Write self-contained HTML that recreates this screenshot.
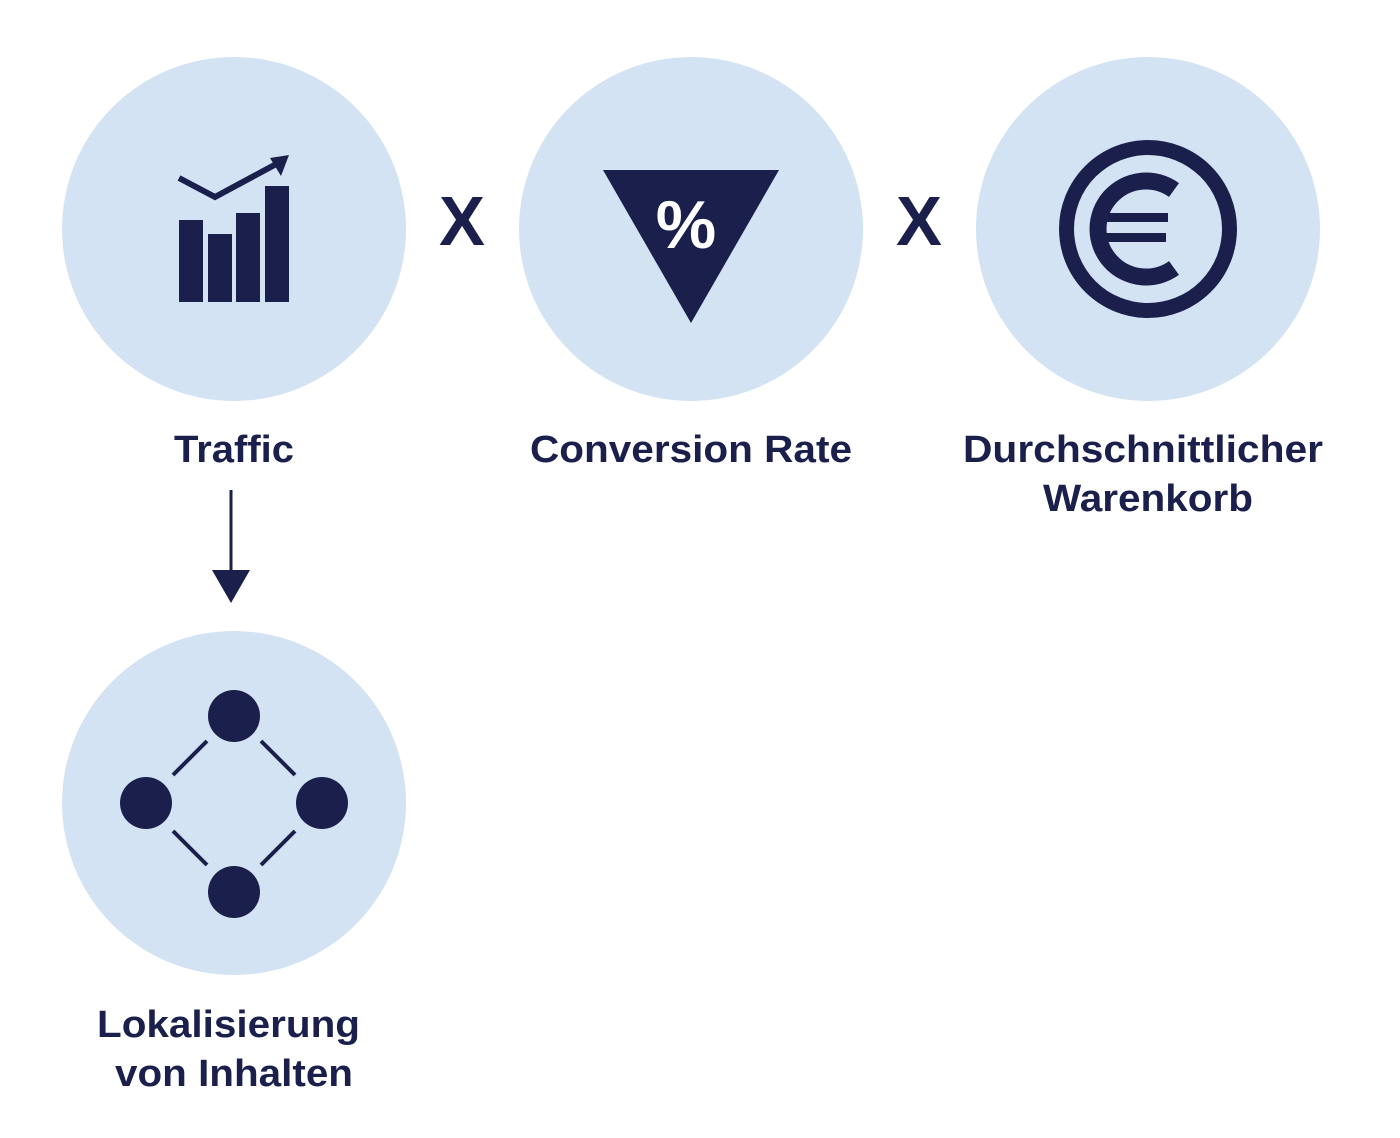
<!DOCTYPE html>
<html><head><meta charset="utf-8"><style>
html,body{margin:0;padding:0;background:#fff;}
svg{display:block}
text{font-family:"Liberation Sans",Arial,sans-serif;font-weight:bold;fill:#1b1f4b}
</style></head><body>
<svg width="1400" height="1138" viewBox="0 0 1400 1138" xmlns="http://www.w3.org/2000/svg">
<g fill="#d3e3f4">
<circle cx="234" cy="229" r="172"/>
<circle cx="691" cy="229" r="172"/>
<circle cx="1148" cy="229" r="172"/>
<circle cx="234" cy="803" r="172"/>
</g>
<g fill="#1b1f4b">
<rect x="179" y="220" width="24" height="82"/>
<rect x="208" y="234" width="24" height="68"/>
<rect x="236" y="213" width="24" height="89"/>
<rect x="265" y="186" width="24" height="116"/>
<polygon points="289,155 270,158 281,176"/>
</g>
<polyline points="179,178 215,197 280,162" fill="none" stroke="#1b1f4b" stroke-width="6"/>
<polygon points="603,170 779,170 691,323" fill="#1b1f4b"/>
<text x="686" y="248" font-size="68" text-anchor="middle" style="fill:#fff">%</text>
<circle cx="1148" cy="229" r="81.5" fill="none" stroke="#1b1f4b" stroke-width="15"/>
<path d="M1174 190 A48 48 0 1 0 1174 268" fill="none" stroke="#1b1f4b" stroke-width="17"/>
<rect x="1096" y="213" width="72" height="9" fill="#1b1f4b"/>
<rect x="1096" y="233" width="70" height="9" fill="#1b1f4b"/>
<text x="462" y="245" font-size="70" text-anchor="middle" textLength="46" lengthAdjust="spacingAndGlyphs">X</text>
<text x="919" y="245" font-size="70" text-anchor="middle" textLength="46" lengthAdjust="spacingAndGlyphs">X</text>
<text x="174" y="462" font-size="38" textLength="120" lengthAdjust="spacingAndGlyphs">Traffic</text>
<text x="530" y="462" font-size="38" textLength="322" lengthAdjust="spacingAndGlyphs">Conversion Rate</text>
<text x="963" y="462" font-size="38" textLength="360" lengthAdjust="spacingAndGlyphs">Durchschnittlicher</text>
<text x="1043" y="511" font-size="38" textLength="210" lengthAdjust="spacingAndGlyphs">Warenkorb</text>
<line x1="231" y1="490" x2="231" y2="585" stroke="#1b1f4b" stroke-width="3"/>
<polygon points="212,570 250,570 231,603" fill="#1b1f4b"/>
<g fill="#1b1f4b">
<circle cx="234" cy="716" r="26"/>
<circle cx="146" cy="803" r="26"/>
<circle cx="322" cy="803" r="26"/>
<circle cx="234" cy="892" r="26"/>
</g>
<g stroke="#1b1f4b" stroke-width="4">
<line x1="173" y1="775" x2="207" y2="741"/>
<line x1="261" y1="741" x2="295" y2="775"/>
<line x1="173" y1="831" x2="207" y2="865"/>
<line x1="261" y1="865" x2="295" y2="831"/>
</g>
<text x="97" y="1037" font-size="38" textLength="263" lengthAdjust="spacingAndGlyphs">Lokalisierung</text>
<text x="115" y="1086" font-size="38" textLength="238" lengthAdjust="spacingAndGlyphs">von Inhalten</text>
</svg>
</body></html>
